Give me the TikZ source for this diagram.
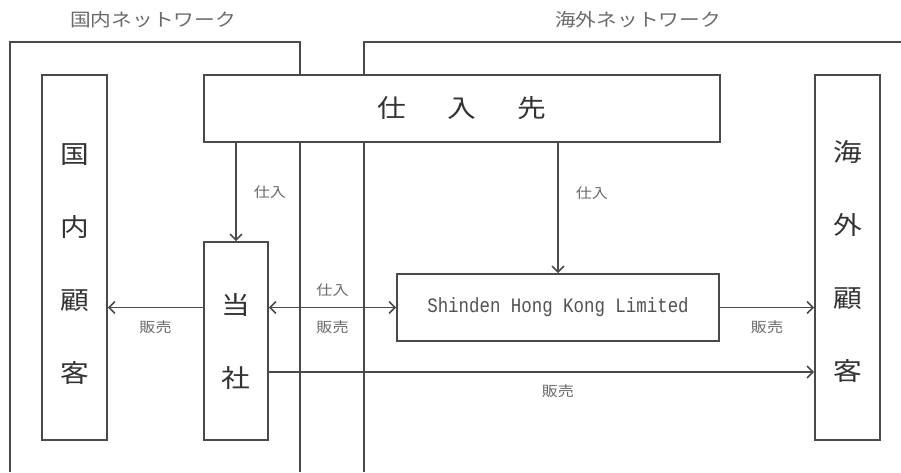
\documentclass[tikz,border=0pt]{standalone}
\usepackage{fontspec}
\newfontfamily\jp[FakeStretch=1.15]{Noto Sans CJK JP}
\newfontfamily\hk[FakeStretch=0.85]{Liberation Mono}
\usepackage{tikz}
\usetikzlibrary{positioning,arrows.meta}

\definecolor{linegray}{HTML}{4A4A4A}
\definecolor{textgray}{HTML}{6A6A6A}
\definecolor{biggray}{HTML}{333333}

\tikzset{
	box/.style={draw=linegray, line width=1.6pt, fill=white, inner sep=0pt},
	big/.style={font=\jp\fontsize{25}{73}\selectfont, text=biggray, align=center},
	lbl/.style={font=\jp\fontsize{14}{16}\selectfont, text=textgray, inner sep=0pt},
	net/.style={font=\jp\fontsize{18}{20}\selectfont, text=textgray, inner sep=0pt},
	flow/.style={draw=linegray, line width=1.6pt},
}

\begin{document}
\begin{tikzpicture}[x=1pt, y=-1pt, >={Straight Barb[length=6pt,width=12pt]}]
	\useasboundingbox (0,0) rectangle (901,472);
	
	% network frames
	\draw[flow] (10,472) -- (10,42) -- (300,42) -- (300,472);
	\draw[flow] (364,472) -- (364,42) -- (901,42);
	\node[net] (domnet) at (153,20) {国内ネットワーク};
	\node[net] (ovsnet) at (638,20) {海外ネットワーク};
	
	% boxes
	\node[box, minimum width=65pt, minimum height=365pt, label={[big, yshift=-7pt]center:国\\内\\顧\\客}] (dom) at (74.5,257.5) {};
	\node[box, big, minimum width=516pt, minimum height=67pt] (sup) at (462,108.5) {仕\hspace{41pt}入\hspace{41pt}先};
	\node[box, big, minimum width=64pt, minimum height=198pt] (self) at (236,341) {当\\社};
	\node[box, font=\hk\fontsize{20.5}{22}\selectfont, text=biggray!85!white, minimum width=322pt, minimum height=67pt] (shk) at (558,307.5) {Shinden Hong Kong Limited};
	\node[box, minimum width=65pt, minimum height=365pt, label={[big, yshift=-4pt]center:海\\外\\顧\\客}] (ovs) at (847.5,257.5) {};
	
	% flows
	\draw[flow, ->] (self.north |- sup.south) -- node[lbl, right=17pt] {仕入} (self.north);
	\draw[flow, ->] (shk.north |- sup.south) -- node[lbl, right=17pt, pos=0.39] {仕入} (shk.north);
	\draw[flow, <->] (self.east |- shk.west) -- node[lbl, above=10pt] {仕入} node[lbl, below=12pt] {販売} (shk.west);
	\draw[flow, ->] (self.west |- shk.west) -- node[lbl, below=12pt] {販売} (dom.east |- shk.west);
	\draw[flow, ->] (shk.east) -- node[lbl, below=12pt] {販売} (ovs.west |- shk.east);
	\coordinate (sale) at ([yshift=-31pt]self.east);
	\draw[flow, ->] (sale) -- node[lbl, below=12pt, pos=0.53] {販売} (sale -| ovs.west);
	
\end{tikzpicture}
\end{document}
